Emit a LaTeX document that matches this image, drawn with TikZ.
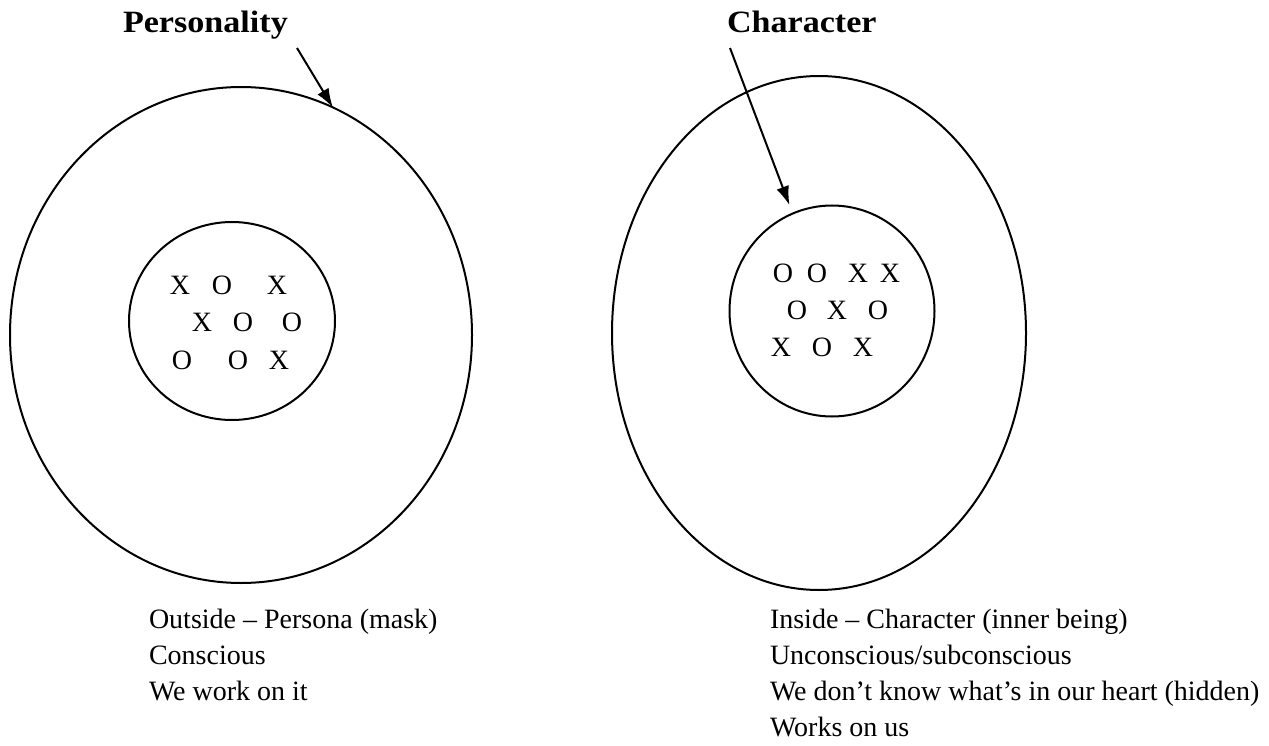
\documentclass[tikz,border=0pt]{standalone}
\usepackage{fontspec}
\setmainfont{Liberation Serif}
\newfontfamily\titlefont{Liberation Serif}[FakeStretch=1.1]
\usetikzlibrary{shapes.geometric,arrows.meta}
\begin{document}
\begin{tikzpicture}[x=1pt,y=-1pt,line width=2pt,
  every node/.style={font=\fontsize{28}{36}\selectfont,inner sep=0pt},
  ring/.style={draw,ellipse,outer sep=0pt},
  title/.style={anchor=base west,font=\fontsize{31}{36}\selectfont\titlefont\bfseries},
  pointer/.style={-{Latex[length=19pt,width=13pt]}}]
\useasboundingbox (0,0) rectangle (1269,746);
% the two pictures
\node[ring,minimum width=462pt,minimum height=496pt] (outerL) at (241,335) {};
\node[ring,minimum width=206pt,minimum height=198pt] (innerL) at (232,321) {};
\node[ring,minimum width=414pt,minimum height=514pt] (outerR) at (819,333) {};
\node[ring,minimum width=205pt,minimum height=211pt] (innerR) at (832,311) {};
% titles
\node[title] (pers) at (122,33) {Personality};
\node[title] (char) at (726,33) {Character};
\coordinate (persTail) at (297,48);
\coordinate (charTail) at (730,48);
\draw[pointer] (persTail) -- (outerL.68);
\draw[pointer,shorten >=9pt] (charTail) -- (innerR.112);
% x and o inside
\foreach \x/\y/\t [count=\i] in {180/285/X,222/285/O,277/285/X,
    202/322/X,243/322/O,292/322/O,182/360/O,238/360/O,279/360/X}
  \node (xl\i) at (\x,\y) {\t};
\foreach \x/\y/\t [count=\i] in {783/273/O,817/273/O,858/273/X,890/273/X,
    797/310/O,837/310/X,878/310/O,781/347/X,822/347/O,863/347/X}
  \node (xr\i) at (\x,\y) {\t};
% notes below
\node[anchor=base west] (l1) at (148,628) {Outside – Persona (mask)};
\node[anchor=base west] (l2) at (148,664) {Conscious};
\node[anchor=base west] (l3) at (148,700) {We work on it};
\node[anchor=base west] (r1) at (769,628) {Inside – Character (inner being)};
\node[anchor=base west] (r2) at (769,664) {Unconscious/subconscious};
\node[anchor=base west] (r3) at (769,700) {We don’t know what’s in our heart (hidden)};
\node[anchor=base west] (r4) at (769,736) {Works on us};
\end{tikzpicture}
\end{document}
